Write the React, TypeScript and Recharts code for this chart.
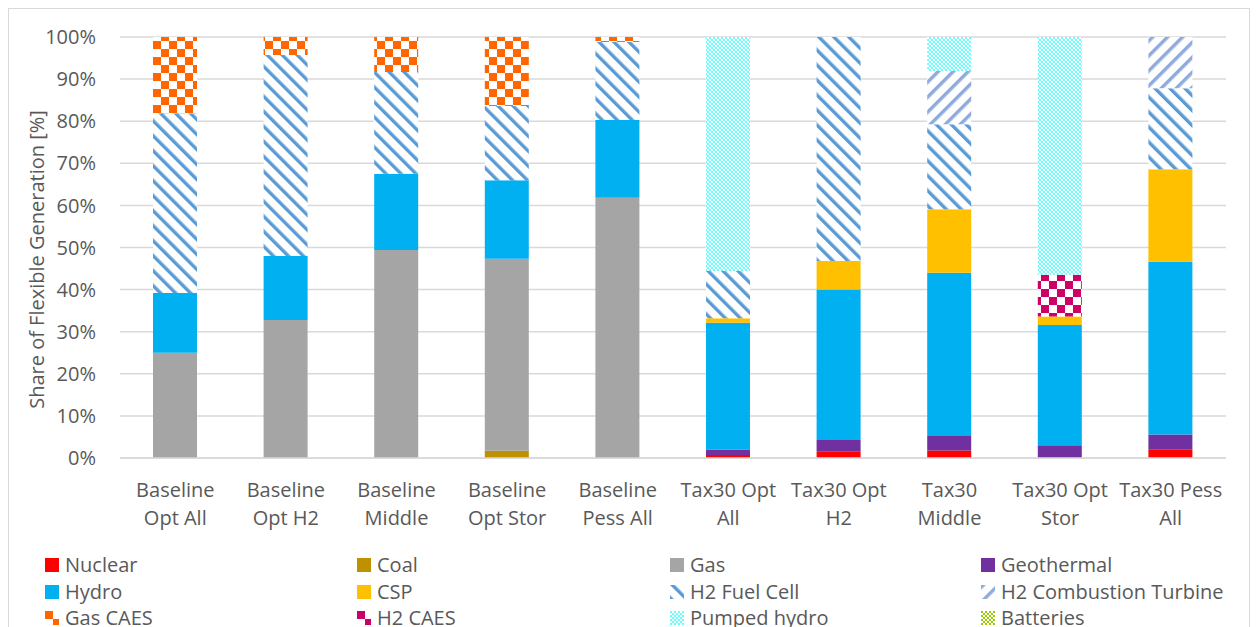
import React from "react";
import { BarChart, Bar, XAxis, YAxis, CartesianGrid, Legend } from "recharts";

const categories = [
  "Baseline|Opt All",
  "Baseline|Opt H2",
  "Baseline|Middle",
  "Baseline|Opt Stor",
  "Baseline|Pess All",
  "Tax30 Opt|All",
  "Tax30 Opt|H2",
  "Tax30|Middle",
  "Tax30 Opt|Stor",
  "Tax30 Pess|All",
];

const nuclear = [0, 0, 0, 0, 0, 0.7, 1.6, 1.8, 0.2, 2.1];
const coal = [0.2, 0, 0, 1.7, 0, 0, 0, 0, 0, 0];
const gas = [24.8, 32.8, 49.4, 45.6, 61.8, 0, 0, 0, 0, 0];
const geothermal = [0, 0, 0, 0, 0, 1.3, 2.7, 3.4, 2.8, 3.5];
const hydro = [14.2, 15.2, 18.1, 18.7, 18.5, 30.1, 35.7, 38.8, 28.6, 41.0];
const csp = [0, 0, 0, 0, 0, 1.1, 6.8, 15.1, 2.0, 22.0];
const h2FuelCell = [42.7, 47.7, 24.2, 17.6, 18.5, 11.2, 53.2, 20.2, 0, 19.2];
const h2CombustionTurbine = [0, 0, 0, 0, 0, 0, 0, 12.6, 0, 12.2];
const gasCaes = [18.1, 4.3, 8.3, 16.4, 1.2, 0, 0, 0, 0, 0];
const h2Caes = [0, 0, 0, 0, 0, 0, 0, 0, 9.9, 0];
const pumpedHydro = [0, 0, 0, 0, 0, 55.6, 0, 8.1, 56.5, 0];
const batteries = [0, 0, 0, 0, 0, 0, 0, 0, 0, 0];

const yTicks = [0, 10, 20, 30, 40, 50, 60, 70, 80, 90, 100];

const series = [
  { key: "nuclear", name: "Nuclear", values: nuclear, fill: "#FF0000" },
  { key: "coal", name: "Coal", values: coal, fill: "#BF9000" },
  { key: "gas", name: "Gas", values: gas, fill: "#A5A5A5" },
  { key: "geothermal", name: "Geothermal", values: geothermal, fill: "#7030A0" },
  { key: "hydro", name: "Hydro", values: hydro, fill: "#00B0F0" },
  { key: "csp", name: "CSP", values: csp, fill: "#FFC000" },
  { key: "h2fc", name: "H2 Fuel Cell", values: h2FuelCell, fill: "url(#patFC)" },
  { key: "h2ct", name: "H2 Combustion Turbine", values: h2CombustionTurbine, fill: "url(#patCT)" },
  { key: "gascaes", name: "Gas CAES", values: gasCaes, fill: "url(#patGasCaes)" },
  { key: "h2caes", name: "H2 CAES", values: h2Caes, fill: "url(#patH2Caes)" },
  { key: "pumped", name: "Pumped hydro", values: pumpedHydro, fill: "url(#patPumped)" },
  { key: "batteries", name: "Batteries", values: batteries, fill: "url(#patBatt)" },
];

const data = categories.map((c, i) => {
  const row: Record<string, any> = { category: c };
  series.forEach((s) => {
    row[s.key] = s.values[i];
  });
  return row;
});

const FONT = "'Open Sans', sans-serif";
const TEXT = "#595959";

const XTick = (props: any) => {
  const { x, y, payload } = props;
  const [a, b] = String(payload.value).split("|");
  return (
    <g>
      <text x={x} y={y + 39} textAnchor="middle" fill={TEXT} fontSize={20} fontFamily={FONT}>
        {a}
      </text>
      <text x={x} y={y + 67} textAnchor="middle" fill={TEXT} fontSize={20} fontFamily={FONT}>
        {b}
      </text>
    </g>
  );
};

const YLabel = (props: any) => {
  const vb = props.viewBox || { x: 0, y: 0, width: 0, height: 0 };
  const cx = vb.x + 27;
  const cy = vb.y + vb.height / 2 + 12;
  return (
    <text
      x={cx}
      y={cy}
      transform={`rotate(-90, ${cx}, ${cy})`}
      textAnchor="middle"
      dominantBaseline="central"
      fill={TEXT}
      fontSize={20}
      fontFamily={FONT}
    >
      Share of Flexible Generation [%]
    </text>
  );
};

const LegendContent = () => {
  const colX = [36, 348, 661, 972];
  const rowY = [16, 43, 69];
  return (
    <div style={{ position: "relative", width: 1240, height: 100, fontFamily: FONT }}>
      {series.map((s, i) => {
        const col = i % 4;
        const row = Math.floor(i / 4);
        return (
          <div
            key={s.key}
            style={{
              position: "absolute",
              left: colX[col],
              top: rowY[row] - 14,
              height: 28,
              display: "flex",
              alignItems: "center",
              whiteSpace: "nowrap",
            }}
          >
            <svg width={14} height={14} style={{ display: "block" }}>
              <rect x={0} y={0} width={14} height={14} fill={s.fill} />
            </svg>
            <span style={{ marginLeft: 6, fontSize: 20, color: TEXT, lineHeight: "28px" }}>{s.name}</span>
          </div>
        );
      })}
    </div>
  );
};

export default function App() {
  return (
    <div style={{ width: 1240, border: "1px solid #D9D9D9", background: "#fff" }}>
      <BarChart
        width={1240}
        height={640}
        data={data}
        margin={{ top: 28, right: 23, bottom: 0, left: 0 }}
        barSize={44}
      >
        <defs>
          <pattern id="patFC" width="10.6" height="10.6" patternUnits="userSpaceOnUse" patternTransform="rotate(-45)">
            <rect width="10.6" height="10.6" fill="#fff" />
            <rect x="0" y="0" width="3.4" height="10.6" fill="#5B9BD5" />
          </pattern>
          <pattern id="patCT" width="10.6" height="10.6" patternUnits="userSpaceOnUse" patternTransform="rotate(45)">
            <rect width="10.6" height="10.6" fill="#fff" />
            <rect x="0" y="0" width="3.4" height="10.6" fill="#8FAADC" />
          </pattern>
          <pattern id="patGasCaes" width="16" height="16" patternUnits="userSpaceOnUse">
            <rect width="16" height="16" fill="#fff" />
            <rect x="0" y="0" width="8" height="8" fill="#FF6600" />
            <rect x="8" y="8" width="8" height="8" fill="#FF6600" />
          </pattern>
          <pattern id="patH2Caes" width="16" height="16" patternUnits="userSpaceOnUse">
            <rect width="16" height="16" fill="#fff" />
            <rect x="0" y="0" width="8" height="8" fill="#CC0066" />
            <rect x="8" y="8" width="8" height="8" fill="#CC0066" />
          </pattern>
          <pattern id="patPumped" width="4" height="4" patternUnits="userSpaceOnUse">
            <rect width="4" height="4" fill="#fff" />
            <rect x="0" y="0" width="2" height="2" fill="#66FFFF" />
            <rect x="2" y="2" width="2" height="2" fill="#66FFFF" />
          </pattern>
          <pattern id="patBatt" width="4" height="4" patternUnits="userSpaceOnUse">
            <rect width="4" height="4" fill="#fff" />
            <rect x="0" y="0" width="2" height="2" fill="#99CC00" />
            <rect x="2" y="2" width="2" height="2" fill="#99CC00" />
          </pattern>
        </defs>
        <CartesianGrid vertical={false} stroke="#D9D9D9" strokeWidth={1.5} />
        <XAxis
          dataKey="category"
          height={91}
          tickLine={false}
          tickSize={0}
          tickMargin={0}
          axisLine={{ stroke: "#D9D9D9", strokeWidth: 1.5 }}
          tick={<XTick />}
          interval={0}
        />
        <YAxis
          width={111}
          domain={[0, 100]}
          ticks={yTicks}
          tickFormatter={(v: number) => `${v}%`}
          axisLine={false}
          tickLine={false}
          tickSize={0}
          tickMargin={24}
          tick={{ fill: TEXT, fontSize: 20, fontFamily: FONT }}
          label={<YLabel />}
          allowDataOverflow
        />
        <Legend verticalAlign="bottom" content={<LegendContent />} wrapperStyle={{ left: 0, width: 1240 }} />
        {series.map((s) => (
          <Bar key={s.key} dataKey={s.key} name={s.name} stackId="a" fill={s.fill} isAnimationActive={false} />
        ))}
      </BarChart>
    </div>
  );
}
